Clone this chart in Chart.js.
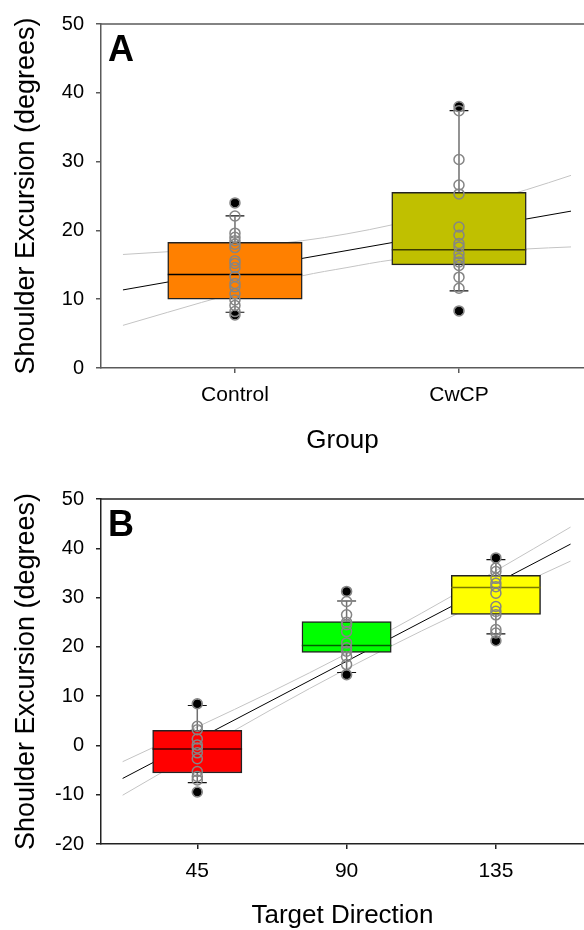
<!DOCTYPE html>
<html>
<head>
<meta charset="utf-8">
<script src="https://cdn.jsdelivr.net/npm/chart.js@4.4.1/dist/chart.umd.min.js"></script>
<style>
  html, body { margin: 0; padding: 0; background: #fff; overflow: hidden; }
  canvas { display: block; }
</style>
</head>
<body>
<canvas id="chartA" width="584" height="465"></canvas>
<canvas id="chartB" width="584" height="465"></canvas>
<script>
const FONT = "'Liberation Sans', Arial, sans-serif";

// ---- panel A: by group ----
const groupLabels = ['Control', 'CwCP'];
const groupPos = [1, 2];
const groupQ1 = [10.0, 15.0];
const groupMedian = [13.6, 17.2];
const groupQ3 = [18.25, 25.55];
const groupWhiskLo = [8.1, 11.2];
const groupWhiskHi = [22.1, 37.4];
const groupOutliers = [[24.0, 7.7], [38.0, 8.3]];
const groupPoints = [
    [24.0, 22.1, 19.6, 19.0, 18.5, 18.0, 17.5, 15.6, 15.2, 14.6, 13.3, 12.3, 11.8, 10.8, 9.9, 9.1, 8.2, 7.7],
    [38.0, 37.4, 30.3, 26.6, 25.3, 20.5, 19.3, 18.1, 17.6, 16.6, 15.9, 15.4, 14.9, 13.2, 11.6, 8.3]
];
const fitAX = [0.5, 2.5];
const fitAY = [11.35, 22.8];
const bandAX = [0.5, 0.7, 1.0, 1.3, 1.5, 1.7, 2.0, 2.3, 2.5];
const bandAUpper = [16.5, 16.9, 17.5, 18.5, 19.5, 20.8, 23.2, 25.9, 28.0];
const bandALower = [6.2, 8.1, 10.9, 13.4, 14.6, 15.7, 16.6, 17.3, 17.6];
const yTicksA = [0, 50, 10];

// ---- panel B: by target direction ----
const dirLabels = ['45', '90', '135'];
const dirPos = [45, 90, 135];
const dirQ1 = [-5.6, 18.85, 26.6];
const dirMedian = [-0.7, 20.3, 32.05];
const dirQ3 = [3.05, 25.15, 34.5];
const dirWhiskLo = [-7.55, 14.8, 22.65];
const dirWhiskHi = [8.1, 29.3, 37.7];
const dirOutliers = [[8.45, -9.45], [31.25, 14.35], [38.05, 21.25]];
const dirPoints = [
    [8.45, 3.9, 3.2, 1.3, 0.1, -0.5, -1.5, -2.7, -5.3, -6.3, -7.0, -9.45],
    [31.25, 29.2, 26.5, 25.0, 24.5, 23.1, 20.8, 19.8, 19.1, 18.0, 16.4, 14.35],
    [38.05, 36.0, 35.3, 33.9, 32.9, 32.2, 30.9, 28.2, 27.2, 26.5, 23.5, 22.8, 21.25]
];
const fitBX = [22.5, 157.5];
const fitBY = [-6.7, 40.85];
const bandBX = [22.5, 45, 67.5, 90, 112.5, 135, 157.5];
const bandBUpper = [-3.3, 3.75, 10.95, 18.6, 26.8, 35.45, 44.3];
const bandBLower = [-10.1, -1.3, 7.35, 15.55, 23.2, 30.4, 37.4];
const yTicksB = [-20, 50, 10];

// boxes drawn as floating bars, the rest as line / scatter sets
function boxDatasets(g) {
    const ds = [];
    ds.push({
        type: 'bar',
        data: g.pos.map((x, i) => ({ x: x, y: [g.q1[i], g.q3[i]] })),
        backgroundColor: g.colors,
        borderColor: '#222',
        borderWidth: 1.5,
        borderSkipped: false,
        barThickness: g.boxPx,
        grouped: false,
        order: 5
    });
    g.pos.forEach((x, i) => {
        ds.push({
            type: 'line',
            data: [{ x: x - g.halfW, y: g.med[i] }, { x: x + g.halfW, y: g.med[i] }],
            borderColor: g.medColors[i], borderWidth: 1.5, pointRadius: 0, order: 4
        });
    });
    const stems = [], caps = [];
    g.pos.forEach((x, i) => {
        stems.push({ x, y: g.q3[i] }, { x, y: g.hi[i] }, { x, y: null },
                   { x, y: g.q1[i] }, { x, y: g.lo[i] }, { x, y: null });
        caps.push({ x: x - g.capW, y: g.hi[i] }, { x: x + g.capW, y: g.hi[i] }, { x, y: null },
                  { x: x - g.capW, y: g.lo[i] }, { x: x + g.capW, y: g.lo[i] }, { x, y: null });
    });
    ds.push({ type: 'line', data: stems, borderColor: '#707070', borderWidth: 1.5, pointRadius: 0, order: 3 });
    ds.push({ type: 'line', data: caps, borderColor: '#111', borderWidth: 1.2, pointRadius: 0, order: 3 });
    ds.push({
        type: 'scatter',
        data: g.pos.flatMap((x, i) => g.outliers[i].map(y => ({ x, y }))),
        backgroundColor: '#000', borderColor: '#000', pointRadius: 4, order: 2
    });
    ds.push({
        type: 'scatter',
        data: g.pos.flatMap((x, i) => g.points[i].map(y => ({ x, y }))),
        backgroundColor: 'rgba(0,0,0,0)', borderColor: '#858585', borderWidth: 1.5, pointRadius: 5, order: 1
    });
    return ds;
}

function fitDatasets(fx, fy, bx, up, lo) {
    const line = (xs, ys, color) => ({
        type: 'line',
        data: xs.map((x, i) => ({ x, y: ys[i] })),
        borderColor: color, borderWidth: 1, pointRadius: 0,
        cubicInterpolationMode: 'monotone', order: 6
    });
    return [line(fx, fy, '#000'), line(bx, up, '#c4c4c4'), line(bx, lo, '#c4c4c4')];
}

const panelDecor = {
    id: 'panelDecor',
    afterDraw(chart, args, opts) {
        const { ctx, chartArea } = chart;
        ctx.save();
        ctx.strokeStyle = opts.axisColor;
        ctx.lineWidth = 1.5;
        ctx.beginPath();
        ctx.moveTo(chartArea.left, chartArea.top);
        ctx.lineTo(chartArea.right, chartArea.top);
        ctx.stroke();
        ctx.fillStyle = '#000';
        ctx.font = 'bold 36px ' + FONT;
        ctx.textBaseline = 'alphabetic';
        ctx.fillText(opts.letter, chartArea.left + 7, chartArea.top + 37);
        ctx.restore();
    }
};

function axisStyle(color) {
    return {
        grid: { drawOnChartArea: false, tickLength: 5, color: color, lineWidth: 1.5, offset: false },
        border: { color: color, width: 1.5 }
    };
}

function makeChart(id, cfg) {
    const ys = axisStyle(cfg.axisColor), xs = axisStyle(cfg.axisColor);
    return new Chart(document.getElementById(id), {
        type: 'bar',
        data: { datasets: cfg.datasets },
        options: {
            responsive: false,
            animation: false,
            layout: { autoPadding: false, padding: { top: cfg.padTop, left: 0, right: 0, bottom: 0 } },
            plugins: {
                legend: { display: false },
                tooltip: { enabled: false },
                panelDecor: { letter: cfg.letter, axisColor: cfg.axisColor }
            },
            scales: {
                x: {
                    type: 'linear', min: cfg.xMin, max: cfg.xMax, offset: false,
                    afterBuildTicks(s) { s.ticks = cfg.tickPos.map(v => ({ value: v })); },
                    ticks: {
                        callback: (v, i) => cfg.tickLabels[i],
                        padding: 10, color: '#000', maxRotation: 0, autoSkip: false,
                        font: { size: 21, family: FONT }
                    },
                    grid: xs.grid, border: xs.border,
                    title: {
                        display: true, text: cfg.xTitle, color: '#000',
                        font: { size: 26, family: FONT, lineHeight: 1 },
                        padding: { top: 0, bottom: cfg.xTitlePad }
                    },
                    afterFit(s) { s.height = cfg.xAxisH; }
                },
                y: {
                    min: cfg.yTicks[0], max: cfg.yTicks[1],
                    ticks: { stepSize: cfg.yTicks[2], padding: 12, color: '#000', font: { size: 20, family: FONT } },
                    grid: ys.grid, border: ys.border,
                    title: {
                        display: true, text: 'Shoulder Excursion (degrees)', color: '#000',
                        font: { size: 27, family: FONT, lineHeight: 1 },
                        padding: { top: 13, bottom: 0 }
                    },
                    afterFit(s) { s.width = 101; }
                }
            }
        },
        plugins: [panelDecor]
    });
}

makeChart('chartA', {
    letter: 'A', padTop: 23, xAxisH: 97, xTitlePad: 11, axisColor: '#5a5a5a',
    xMin: 0.402, xMax: 2.558, tickPos: groupPos, tickLabels: groupLabels,
    xTitle: 'Group', yTicks: yTicksA,
    datasets: boxDatasets({
        pos: groupPos, q1: groupQ1, med: groupMedian, q3: groupQ3,
        lo: groupWhiskLo, hi: groupWhiskHi, outliers: groupOutliers, points: groupPoints,
        colors: ['#ff8000', '#c0c000'], medColors: ['#000000', '#3c3c00'],
        boxPx: 134.5, halfW: 0.3, capW: 0.042
    }).concat(fitDatasets(fitAX, fitAY, bandAX, bandAUpper, bandALower))
});

makeChart('chartB', {
    letter: 'B', padTop: 34, xAxisH: 86, xTitlePad: 1, axisColor: '#222',
    xMin: 15.98, xMax: 161.55, tickPos: dirPos, tickLabels: dirLabels,
    xTitle: 'Target Direction', yTicks: yTicksB,
    datasets: boxDatasets({
        pos: dirPos, q1: dirQ1, med: dirMedian, q3: dirQ3,
        lo: dirWhiskLo, hi: dirWhiskHi, outliers: dirOutliers, points: dirPoints,
        colors: ['#ff0000', '#00ff00', '#ffff00'], medColors: ['#400000', '#006000', '#7a7a00'],
        boxPx: 89.3, halfW: 13.5, capW: 2.86
    }).concat(fitDatasets(fitBX, fitBY, bandBX, bandBUpper, bandBLower))
});
</script>
</body>
</html>
